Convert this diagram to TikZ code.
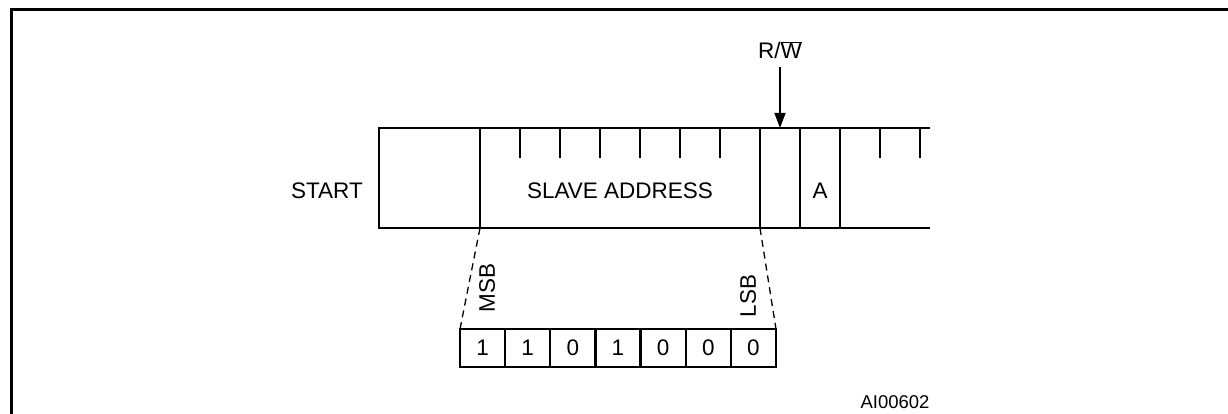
\documentclass[tikz,border=0pt]{standalone}
\usepackage{fontspec}
\setmainfont{Liberation Sans}
\usetikzlibrary{arrows.meta, positioning}
\newcommand{\bigfont}{\fontsize{22.5}{27}\selectfont}

\begin{document}
\begin{tikzpicture}[
    x=1pt, y=-1pt,
    field/.style={draw, line width=2.3pt, minimum height=100pt,
                  inner sep=0pt, outer sep=0pt},
    bitcell/.style={draw, line width=2.3pt, minimum width=45.14pt,
                    minimum height=38pt, inner sep=0pt, outer sep=0pt, font=\bigfont},
    lbl/.style={inner sep=0pt, font=\bigfont},
    bittick/.style={line width=2.3pt},
    arr/.style={-{Triangle[length=15pt, width=11pt]}, line width=1.5pt},
    zoomline/.style={dash pattern=on 7pt off 5pt, line width=1.3pt}
  ]
  \useasboundingbox (0,0) rectangle (1228,414);

  % Outer frame
  \coordinate (framebl) at (11,414);
  \coordinate (frametr) at (1228,10);
  \draw[line width=3pt] (framebl) |- (frametr);

  % Bus frame
  \node[field, minimum width=101pt, anchor=north west] (startfld) at (379,128) {};
  \node[field, minimum width=280pt, right=0pt of startfld] (addrfld) {};
  \node[field, minimum width=40pt, right=0pt of addrfld] (rwfld) {};
  \node[field, minimum width=40pt, right=0pt of rwfld] (ackfld) {};
  \coordinate (tailtop) at (930,128);
  \coordinate (tailbot) at (930,228);
  \draw[line width=2.3pt] (ackfld.north east) -- (tailtop);
  \draw[line width=2.3pt] (ackfld.south east) -- (tailbot);

  % Bit ticks
  \foreach \tx in {520,560,...,720}
    \draw[bittick] (\tx,128) -- (\tx,158);
  \foreach \tx in {880,920}
    \draw[bittick] (\tx,128) -- (\tx,158);

  % Field labels
  \node[lbl, anchor=east] (starttxt) at ([xshift=-16pt, yshift=-13pt]startfld.west) {START};
  \node[lbl] (addrtxt) at ([yshift=-13pt]addrfld.center) {SLAVE ADDRESS};
  \node[lbl] (acktxt) at ([yshift=-13pt]ackfld.center) {A};

  % Read/write bit
  \node[lbl, anchor=base] (rwtxt) at (780,59) {R/$\overline{\mbox{W}}$};
  \draw[arr, shorten <=8pt] (rwtxt.south) -- (rwfld.north);

  % Address bits
  \foreach \b [count=\i] in {1,1,0,1,0,0,0}
    \node[bitcell] (bit\i) at ({460+45.14*(\i-0.5)},348) {\b};

  \draw[zoomline] (addrfld.south west) -- (bit1.north west);
  \draw[zoomline] (addrfld.south east) -- (bit7.north east);
  \node[lbl, rotate=90] (msbtxt) at (487,288) {MSB};
  \node[lbl, rotate=90] (lsbtxt) at (748,296) {LSB};

  % Figure id
  \node[inner sep=0pt, font=\fontsize{18.5}{22}\selectfont] (figid) at (895,402) {AI00602};

\end{tikzpicture}
\end{document}
